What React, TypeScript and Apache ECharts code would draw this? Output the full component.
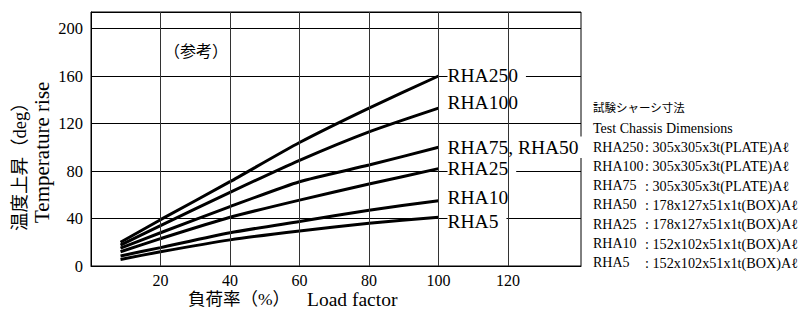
import React, { useEffect, useRef } from "react";
import * as echarts from "echarts";

const loadFactor = [8.5, 20, 40, 60, 80, 100];
const rha250 = [20, 39, 71, 104, 133, 160];
const rha100 = [17.5, 34, 62, 89, 113, 133];
const rha75_50 = [15, 28, 50, 71, 85, 100];
const rha25 = [12, 23, 41, 55.5, 69, 82];
const rha10 = [8.5, 15.5, 28, 37.5, 47, 55];
const rha5 = [5.5, 12, 22, 29.5, 36, 41];

const seriesNames = ["RHA250", "RHA100", "RHA75, RHA50", "RHA25", "RHA10", "RHA5"];
const seriesValues = [rha250, rha100, rha75_50, rha25, rha10, rha5];
const labelOffsetsY = [-1, -6, 0, 0, -3, 4];

const xGridValues = [20, 40, 60, 80, 100, 120];

const chassisTitleJa = "試験シャーシ寸法";
const chassisTitleEn = "Test Chassis Dimensions";
const chassisModels = ["RHA250", "RHA100", "RHA75", "RHA50", "RHA25", "RHA10", "RHA5"];
const chassisDims = [
  ": 305x305x3t(PLATE)Aℓ",
  ": 305x305x3t(PLATE)Aℓ",
  ": 305x305x3t(PLATE)Aℓ",
  ": 178x127x51x1t(BOX)Aℓ",
  ": 178x127x51x1t(BOX)Aℓ",
  ": 152x102x51x1t(BOX)Aℓ",
  ": 152x102x51x1t(BOX)Aℓ",
];

const SERIF = "'Liberation Serif', 'Noto Sans CJK JP', serif";

export default function App() {
  const ref = useRef<HTMLDivElement>(null);
  useEffect(() => {
    if (!ref.current) return;
    const chart = echarts.init(ref.current, null, { renderer: "svg" });

    const lineSeries = seriesNames.map((name, i) => ({
      name,
      type: "line",
      z: 3,
      data: loadFactor.map((x, j) => [x, seriesValues[i][j]]),
      smooth: 0.2,
      showSymbol: false,
      symbol: "none",
      lineStyle: { color: "#000", width: 3 },
      endLabel: {
        show: true,
        formatter: name,
        distance: 9,
        offset: [0, labelOffsetsY[i]],
        color: "#000",
        fontFamily: SERIF,
        fontSize: 19.5,
        backgroundColor: "#fff",
        padding: [1, 8, 1, 0],
      },
    }));

    const txt = (x: number, y: number, text: string, fontSize: number, extra: any = {}) => ({
      type: "text",
      x,
      y,
      ...extra,
      style: {
        text,
        fontFamily: SERIF,
        fontSize,
        fill: "#000",
        align: "left",
        verticalAlign: "middle",
        ...(extra.style || {}),
      },
    });

    const graphics: any[] = [
      txt(20, 231, "温度上昇（deg）", 18.5, { rotation: Math.PI / 2 }),
      txt(42, 223, "Temperature rise", 21, { rotation: Math.PI / 2 }),
      txt(188, 299, "負荷率（%）", 17.5),
      txt(307, 299, "Load factor", 19.5),
      txt(196, 50, "（参考）", 16, { style: { align: "center", fontFamily: "'Noto Sans CJK JP', sans-serif" } }),
      txt(593, 107, chassisTitleJa, 11.5, { style: { fontFamily: "'Noto Sans CJK JP', sans-serif" } }),
      txt(593, 128, chassisTitleEn, 14),
    ];
    chassisModels.forEach((m, i) => {
      const y = 147 + 19.3 * i;
      graphics.push(txt(593, y, m, 14));
      graphics.push(txt(645, y, chassisDims[i], 14.2));
    });

    chart.setOption({
      animation: false,
      backgroundColor: "#fff",
      grid: {
        left: 91,
        top: 12,
        right: 803 - 581,
        bottom: 314 - 266,
        show: true,
        borderColor: "#000",
        borderWidth: 1,
        backgroundColor: "transparent",
      },
      xAxis: {
        type: "value",
        min: 0,
        max: 141,
        interval: 20,
        axisLine: { show: true, lineStyle: { color: "#000", width: 1 } },
        axisTick: { show: false },
        splitLine: { show: false },
        axisLabel: {
          color: "#000",
          fontFamily: SERIF,
          fontSize: 16,
          margin: 6,
          formatter: (v: number) => (v === 0 || v > 120 ? "" : String(v)),
        },
      },
      yAxis: {
        type: "value",
        min: 0,
        max: 213.9,
        interval: 40,
        axisLine: { show: true, lineStyle: { color: "#000", width: 1 } },
        axisTick: { show: false },
        splitLine: { show: true, lineStyle: { color: "#000", width: 1 } },
        axisLabel: {
          color: "#000",
          fontFamily: SERIF,
          fontSize: 16.5,
          margin: 8,
          showMaxLabel: false,
          formatter: (v: number) => (v % 40 === 0 ? String(v) : ""),
        },
      },
      series: [
        {
          name: "grid-x",
          type: "line",
          z: 1,
          data: [],
          silent: true,
          markLine: {
            silent: true,
            symbol: ["none", "none"],
            label: { show: false },
            lineStyle: { color: "#333", width: 1, type: "solid" },
            data: xGridValues.map((v) => ({ xAxis: v })),
          },
        },
        ...lineSeries,
      ],
      graphic: graphics,
    });

    return () => chart.dispose();
  }, []);

  return (
    <div
      ref={ref}
      style={{ position: "absolute", left: 0, top: 0, width: 803, height: 314 }}
    />
  );
}
